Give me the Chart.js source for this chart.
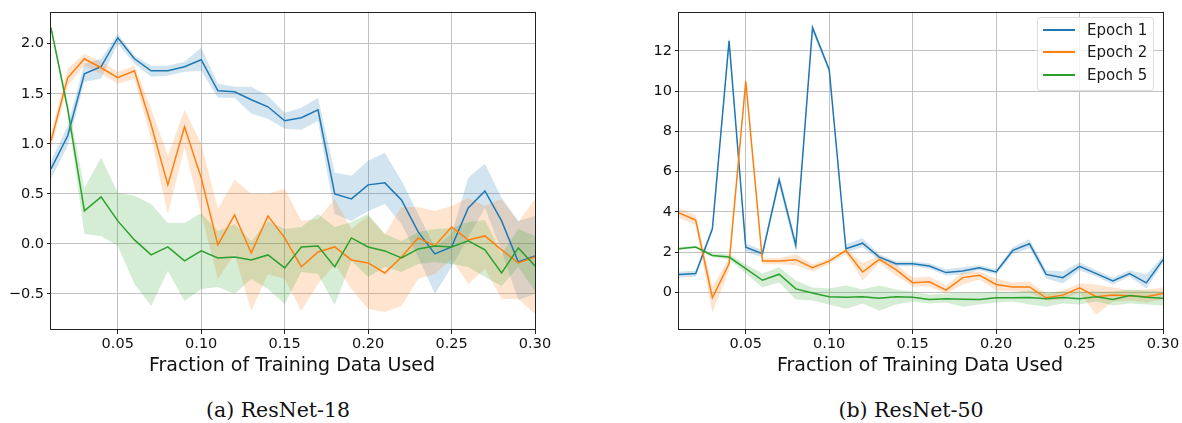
<!DOCTYPE html>
<html>
<head>
<meta charset="utf-8">
<script src="https://cdn.jsdelivr.net/npm/chart.js@4.4.1/dist/chart.umd.min.js"></script>
<style>
  body { margin: 0; background: #fff; width: 1182px; height: 423px; position: relative; overflow: hidden; font-family: "DejaVu Sans", sans-serif; }
  canvas { position: absolute; top: 0; }
  .xtitle { position: absolute; top: 353px; width: 400px; text-align: center; font-size: 19px; line-height: 22px; color: #111; }
  .caption { position: absolute; top: 398px; width: 300px; text-align: center; font-family: "DejaVu Serif", serif; font-size: 20.5px; line-height: 24px; color: #111; }
  #legend { position: absolute; left: 1037px; top: 17px; width: 115px; height: 71px; border: 1px solid #dedede; border-radius: 3px; background: rgba(255,255,255,0.8); padding-top: 1px; }
  .item { position: relative; height: 22.3px; line-height: 22.3px; font-size: 15px; color: #1a1a1a; }
  .swatch { position: absolute; left: 5px; top: 10px; width: 32px; height: 2px; }
  .item span { position: absolute; left: 49px; }
</style>
</head>
<body>
<canvas id="r18" width="600" height="380" style="left:0px;width:600px;height:380px"></canvas>
<canvas id="r50" width="582" height="380" style="left:600px;width:582px;height:380px"></canvas>
<div class="xtitle" style="left:92px">Fraction of Training Data Used</div>
<div class="xtitle" style="left:720px">Fraction of Training Data Used</div>
<div class="caption" style="left:128px">(a) ResNet-18</div>
<div class="caption" style="left:761px">(b) ResNet-50</div>
<div id="legend"></div>
<script>
// x positions and ticks
const xValues = [0.01, 0.02, 0.03, 0.04, 0.05, 0.06, 0.07, 0.08, 0.09, 0.10,
                 0.11, 0.12, 0.13, 0.14, 0.15, 0.16, 0.17, 0.18, 0.19, 0.20,
                 0.21, 0.22, 0.23, 0.24, 0.25, 0.26, 0.27, 0.28, 0.29, 0.30];
const xTicks = [0.05, 0.10, 0.15, 0.20, 0.25, 0.30];
const seriesNames = ['Epoch 1', 'Epoch 2', 'Epoch 5'];

// ResNet-18
const r18YTicks = [-0.5, 0.0, 0.5, 1.0, 1.5, 2.0];
const r18Epoch1 = [0.75, 1.08, 1.70, 1.77, 2.06, 1.85, 1.73, 1.73, 1.77, 1.84, 1.53, 1.52, 1.44, 1.37, 1.23, 1.26, 1.34, 0.50, 0.45, 0.59, 0.61, 0.44, 0.12, -0.10, -0.03, 0.36, 0.53, 0.23, -0.18, -0.12];
const r18Epoch1Low = [0.65, 0.98, 1.62, 1.65, 2.00, 1.80, 1.67, 1.68, 1.72, 1.73, 1.46, 1.46, 1.30, 1.25, 1.15, 1.14, 1.23, 0.30, 0.23, 0.33, 0.40, 0.20, -0.13, -0.50, -0.23, 0.07, 0.36, -0.07, -0.56, -0.50];
const r18Epoch1High = [0.83, 1.18, 1.80, 1.85, 2.10, 1.88, 1.78, 1.78, 1.82, 1.96, 1.60, 1.57, 1.57, 1.48, 1.31, 1.36, 1.46, 0.71, 0.68, 0.83, 0.91, 0.63, 0.30, -0.03, 0.10, 0.66, 0.80, 0.46, 0.23, 0.28];
const r18Epoch2 = [1.03, 1.66, 1.85, 1.76, 1.66, 1.73, 1.19, 0.59, 1.17, 0.66, -0.01, 0.29, -0.09, 0.28, 0.06, -0.23, -0.08, -0.03, -0.16, -0.19, -0.29, -0.13, 0.06, -0.02, 0.17, 0.04, 0.08, -0.06, -0.19, -0.13];
const r18Epoch2Low = [0.95, 1.58, 1.78, 1.70, 1.60, 1.65, 1.05, 0.30, 0.96, 0.30, -0.35, -0.10, -0.67, -0.30, -0.35, -0.67, -0.40, -0.20, -0.45, -0.65, -0.68, -0.62, -0.35, -0.30, -0.15, -0.40, -0.25, -0.55, -0.55, -0.70];
const r18Epoch2High = [1.10, 1.75, 1.90, 1.82, 1.72, 1.78, 1.35, 0.88, 1.34, 1.00, 0.35, 0.64, 0.50, 0.50, 0.55, 0.23, 0.25, 0.45, 0.15, 0.28, 0.10, 0.37, 0.37, 0.33, 0.38, 0.46, 0.38, 0.45, 0.22, 0.45];
const r18Epoch5 = [2.16, 1.35, 0.33, 0.47, 0.23, 0.04, -0.11, -0.03, -0.17, -0.07, -0.14, -0.13, -0.16, -0.11, -0.24, -0.03, -0.02, -0.23, 0.06, -0.03, -0.07, -0.14, -0.05, -0.02, -0.03, 0.03, -0.06, -0.29, -0.04, -0.22];
const r18Epoch5Low = [2.14, 1.30, 0.10, 0.08, -0.02, -0.40, -0.62, -0.27, -0.57, -0.45, -0.43, -0.50, -0.35, -0.45, -0.60, -0.28, -0.30, -0.61, -0.17, -0.33, -0.23, -0.28, -0.20, -0.18, -0.20, -0.23, -0.33, -0.42, -0.23, -0.47];
const r18Epoch5High = [2.18, 1.42, 0.56, 0.86, 0.51, 0.48, 0.40, 0.21, 0.21, 0.31, 0.13, 0.20, 0.03, 0.23, 0.15, 0.17, 0.30, 0.17, 0.22, 0.30, 0.10, 0.03, 0.12, 0.15, 0.16, 0.22, 0.24, -0.10, 0.15, 0.08];

// ResNet-50
const r50YTicks = [0, 2, 4, 6, 8, 10, 12];
const r50Epoch1 = [0.90, 0.94, 3.16, 12.49, 2.25, 1.93, 5.60, 2.34, 13.15, 11.06, 2.17, 2.45, 1.76, 1.43, 1.43, 1.32, 0.99, 1.07, 1.23, 1.02, 2.09, 2.42, 0.90, 0.74, 1.30, 0.94, 0.58, 0.94, 0.48, 1.63];
const r50Epoch1Low = [0.75, 0.78, 3.00, 12.20, 2.00, 1.75, 5.30, 2.00, 12.95, 10.90, 2.00, 2.25, 1.60, 1.30, 1.30, 1.18, 0.85, 0.90, 1.10, 0.90, 1.90, 2.20, 0.70, 0.45, 1.10, 0.80, 0.40, 0.80, 0.20, 1.45];
const r50Epoch1High = [1.05, 1.08, 3.30, 12.75, 2.45, 2.10, 5.85, 2.60, 13.30, 11.20, 2.40, 2.70, 1.90, 1.55, 1.55, 1.45, 1.15, 1.25, 1.35, 1.15, 2.25, 2.65, 1.10, 1.05, 1.50, 1.10, 0.75, 1.10, 0.90, 1.80];
const r50Epoch2 = [3.95, 3.60, -0.26, 1.43, 10.49, 1.56, 1.56, 1.63, 1.23, 1.56, 2.09, 1.02, 1.65, 1.14, 0.49, 0.53, 0.12, 0.74, 0.86, 0.40, 0.28, 0.28, -0.26, -0.13, 0.23, -0.21, -0.12, -0.16, -0.21, -0.05];
const r50Epoch2Low = [3.70, 3.35, -1.00, 1.10, 10.30, 1.40, 1.40, 1.35, 1.05, 1.40, 1.90, 0.60, 1.45, 0.85, 0.30, 0.30, -0.05, 0.40, 0.65, 0.10, 0.05, 0.00, -0.40, -0.35, 0.00, -1.10, -0.45, -0.40, -0.50, -0.35];
const r50Epoch2High = [4.20, 3.85, 0.30, 1.70, 10.65, 1.70, 1.70, 1.90, 1.40, 1.70, 2.20, 1.45, 1.85, 1.40, 0.75, 0.80, 0.35, 1.00, 1.05, 0.70, 0.50, 0.55, -0.05, 0.10, 0.45, 0.40, 0.25, 0.10, 0.15, 0.25];
const r50Epoch5 = [2.17, 2.26, 1.84, 1.76, 1.19, 0.61, 0.91, 0.18, -0.02, -0.21, -0.23, -0.21, -0.28, -0.21, -0.23, -0.35, -0.31, -0.33, -0.35, -0.26, -0.26, -0.25, -0.31, -0.25, -0.31, -0.21, -0.35, -0.15, -0.23, -0.28];
const r50Epoch5Low = [2.10, 2.20, 1.75, 1.65, 0.95, 0.25, 0.50, -0.35, -0.40, -0.60, -0.80, -0.55, -0.90, -0.60, -0.45, -0.55, -0.50, -0.70, -0.60, -0.50, -0.45, -0.60, -0.70, -0.55, -0.60, -0.45, -0.65, -0.55, -0.60, -0.65];
const r50Epoch5High = [2.25, 2.32, 1.95, 1.90, 1.40, 0.95, 1.25, 0.60, 0.25, 0.20, 0.35, 0.15, 0.35, 0.15, 0.05, -0.10, -0.05, 0.00, 0.00, 0.05, 0.00, 0.10, 0.00, 0.05, 0.05, 0.05, 0.05, 0.15, 0.10, 0.05];

const lineColors = ['#1f77b4', '#ff7f0e', '#2ca02c'];
const bandColors = ['rgba(31,119,180,0.2)', 'rgba(255,127,14,0.2)', 'rgba(44,160,44,0.2)'];
const tickFont = { family: 'DejaVu Sans', size: 14.5 };
const gridColor = '#c2c2c2';

function pts(arr) {
  return arr.map((y, i) => ({ x: xValues[i], y: y }));
}

// three datasets per series: lower edge, upper edge filled down to it, mean line
function seriesSets(i, mean, low, high) {
  const order = 3 - i;
  return [
    { label: seriesNames[i] + ' low', data: pts(low), borderColor: 'rgba(0,0,0,0)', pointRadius: 0, fill: false, order: order + 10 },
    { label: seriesNames[i] + ' high', data: pts(high), borderColor: 'rgba(0,0,0,0)', pointRadius: 0, fill: '-1', backgroundColor: bandColors[i], order: order + 10 },
    { label: seriesNames[i], data: pts(mean), borderColor: lineColors[i], borderWidth: 1.5, pointRadius: 0, fill: false, tension: 0, order: order }
  ];
}

const framePlugin = {
  id: 'frame',
  afterDraw(chart) {
    const a = chart.chartArea;
    const c = chart.ctx;
    c.save();
    c.strokeStyle = '#222';
    c.lineWidth = 1;
    c.strokeRect(Math.round(a.left) - 0.5, Math.round(a.top) + 0.5, Math.round(a.right - a.left) + 1, Math.round(a.bottom - a.top) - 1);
    c.restore();
  }
};

function makeChart(id, datasets, yMin, yMax, yTicks, yFormat, yWidth, padRight) {
  return new Chart(document.getElementById(id), {
    type: 'line',
    data: { datasets: datasets },
    options: {
      responsive: false,
      animation: false,
      layout: { padding: { left: 0, right: padRight, top: 10, bottom: 0 } },
      plugins: {
        legend: { display: false },
        tooltip: { enabled: false },
        filler: { drawTime: 'beforeDatasetsDraw' }
      },
      scales: {
        x: {
          type: 'linear', min: 0.01, max: 0.30,
          afterBuildTicks: s => { s.ticks = xTicks.map(v => ({ value: v })); },
          afterFit: s => { s.height = 50; },
          border: { display: false },
          grid: { color: gridColor, tickColor: '#222', tickLength: 4 },
          ticks: { font: tickFont, color: '#111', padding: 2, maxRotation: 0, autoSkip: false, callback: v => v.toFixed(2) }
        },
        y: {
          min: yMin, max: yMax,
          afterBuildTicks: s => { s.ticks = yTicks.map(v => ({ value: v })); },
          afterFit: s => { s.width = yWidth; },
          border: { display: false },
          grid: { color: gridColor, tickColor: '#222', tickLength: 4 },
          ticks: { font: tickFont, color: '#111', padding: 3, autoSkip: false, callback: yFormat }
        }
      }
    },
    plugins: [framePlugin]
  });
}

const r18Sets = [].concat(
  seriesSets(0, r18Epoch1, r18Epoch1Low, r18Epoch1High),
  seriesSets(1, r18Epoch2, r18Epoch2Low, r18Epoch2High),
  seriesSets(2, r18Epoch5, r18Epoch5Low, r18Epoch5High)
);
const r50Sets = [].concat(
  seriesSets(0, r50Epoch1, r50Epoch1Low, r50Epoch1High),
  seriesSets(1, r50Epoch2, r50Epoch2Low, r50Epoch2High),
  seriesSets(2, r50Epoch5, r50Epoch5Low, r50Epoch5High)
);

makeChart('r18', r18Sets, -0.86, 2.32, r18YTicks,
  v => (v < 0 ? '\u2212' + Math.abs(v).toFixed(1) : v.toFixed(1)), 51, 65);
makeChart('r50', r50Sets, -1.86, 13.94, r50YTicks,
  v => String(v), 79, 19);

// legend box
const legend = document.getElementById('legend');
seriesNames.forEach((name, i) => {
  const item = document.createElement('div');
  item.className = 'item';
  item.innerHTML = '<div class="swatch" style="background:' + lineColors[i] + '"></div><span>' + name + '</span>';
  legend.appendChild(item);
});
</script>
</body>
</html>
